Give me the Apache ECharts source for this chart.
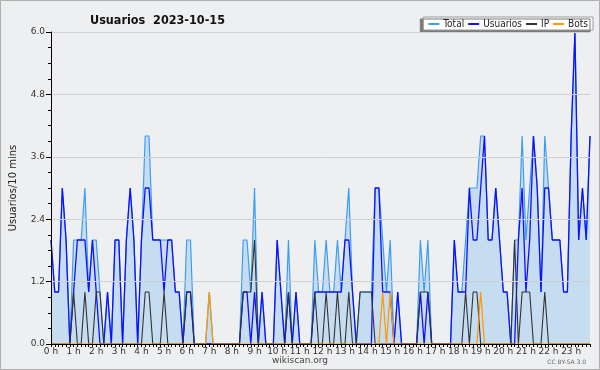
<!DOCTYPE html>
<html><head><meta charset="utf-8">
<script src="https://cdn.jsdelivr.net/npm/echarts@6/dist/echarts.min.js"></script>
<style>html,body{margin:0;padding:0;background:#eeeff1}#c{width:600px;height:370px}</style>
</head><body><div id="c"></div>
<script>
var hourLabels = ["0 h","1 h","2 h","3 h","4 h","5 h","6 h","7 h","8 h","9 h","10 h","11 h","12 h","13 h","14 h","15 h","16 h","17 h","18 h","19 h","20 h","21 h","22 h","23 h"];
var yTicks = [0, 1.2, 2.4, 3.6, 4.8, 6.0];

var total = [
2,1,1,3,2,0,2,2,2,3,1,2,2,1,0,1,0,2,2,0,
2,3,2,0,2,4,4,2,2,2,2,2,2,1,1,0,2,2,0,0,
0,0,1,0,0,0,0,0,0,0,0,2,2,1,3,0,1,0,0,0,
2,1,0,2,0,1,0,0,0,0,2,1,1,2,1,1,2,1,2,3,
1,0,1,1,1,1,3,3,2,1,2,0,1,0,0,0,0,0,2,1,
2,0,0,0,0,0,0,2,1,1,2,3,3,3,4,4,2,2,3,2,
1,1,0,2,2,4,2,3,4,3,1,4,3,2,2,2,1,1,4,6,
2,3,2,4];
var usuarios = [
2,1,1,3,2,0,1,2,2,2,1,2,1,0,0,1,0,2,2,0,
2,3,2,0,2,3,3,2,2,2,1,2,2,1,1,0,1,1,0,0,
0,0,0,0,0,0,0,0,0,0,0,1,1,0,1,0,1,0,0,0,
2,1,0,1,0,1,0,0,0,0,1,1,1,1,1,1,1,1,2,2,
1,0,0,0,0,0,3,3,1,1,1,0,1,0,0,0,0,0,1,0,
1,0,0,0,0,0,0,2,1,1,1,3,2,2,3,4,2,2,3,2,
1,1,0,0,2,3,1,2,4,3,1,3,3,2,2,2,1,1,4,6,
2,3,2,4];
var ip = [
0,0,0,0,0,0,1,0,0,1,0,0,1,1,0,0,0,0,0,0,
0,0,0,0,0,1,1,0,0,0,1,0,0,0,0,0,1,1,0,0,
0,0,0,0,0,0,0,0,0,0,0,1,1,1,2,0,0,0,0,0,
0,0,0,1,0,0,0,0,0,0,1,0,0,1,0,0,1,0,0,1,
0,0,1,1,1,1,0,0,0,0,0,0,0,0,0,0,0,0,1,1,
1,0,0,0,0,0,0,0,0,0,1,0,1,1,0,0,0,0,0,0,
0,0,0,2,0,1,1,1,0,0,0,1,0,0,0,0,0,0,0,0,
0,0,0,0];
var bots = [
0,0,0,0,0,0,0,0,0,0,0,0,0,0,0,0,0,0,0,0,
0,0,0,0,0,0,0,0,0,0,0,0,0,0,0,0,0,0,0,0,
0,0,1,0,0,0,0,0,0,0,0,0,0,0,0,0,0,0,0,0,
0,0,0,0,0,0,0,0,0,0,0,0,0,0,0,0,0,0,0,0,
0,0,0,0,0,0,0,0,1,0,1,0,0,0,0,0,0,0,0,0,
0,0,0,0,0,0,0,0,0,0,0,0,0,0,1,0,0,0,0,0,
0,0,0,0,0,0,0,0,0,0,0,0,0,0,0,0,0,0,0,0,
0,0,0,0];

var categories = [];
for (var h = 0; h < 24; h++) for (var m = 0; m < 60; m += 10) categories.push(h + ':' + (m < 10 ? '0' : '') + m);

var FONT = 'DejaVu Sans';
var CFONT = '"DejaVu Sans Condensed", "DejaVu Sans"';
var chart = echarts.init(document.getElementById('c'), null, {renderer: 'canvas'});
chart.setOption({
  animation: false,
  backgroundColor: '#eeeff1',
  textStyle: {fontFamily: FONT},
  title: {text: 'Usuarios  2023-10-15', left: 85, top: 9,
    textStyle: {fontFamily: CFONT, fontSize: 12.5, fontWeight: 'bold', color: '#111'}},
  legend: {
    right: 7, top: 17, orient: 'horizontal',
    backgroundColor: '#ffffff', borderColor: '#9a9a9a', borderWidth: 1,
    shadowColor: '#7a7a7a', shadowOffsetX: -3, shadowOffsetY: 2, shadowBlur: 0,
    padding: [2, 5, 1, 5], itemGap: 4, itemWidth: 11, itemHeight: 2, icon: 'rect',
    textStyle: {fontFamily: CFONT, fontSize: 10, color: '#222', padding: [0,0,0,-1]},
    data: [
      {name: 'Total', itemStyle: {color: '#3d9df0'}},
      {name: 'Usuarios', itemStyle: {color: '#1010ff'}},
      {name: 'IP', itemStyle: {color: '#333333'}},
      {name: 'Bots', itemStyle: {color: '#ff9900'}}
    ]
  },
  grid: {left: 45, right: 10, top: 32, bottom: 26, containLabel: false},
  xAxis: {
    type: 'category', data: categories, boundaryGap: false, z: 10,
    axisLine: {lineStyle: {color: '#000', width: 1}},
    axisTick: {show: true, interval: 0, length: 3, lineStyle: {color: '#000'}},
    axisLabel: {interval: function (i) { return i % 6 === 0; },
      formatter: function (v, i) { return hourLabels[Math.floor(i / 6)]; },
      fontFamily: FONT, fontSize: 9, color: '#333', margin: 3},
    splitLine: {show: false}
  },
  yAxis: {
    type: 'value', min: yTicks[0], max: yTicks[yTicks.length - 1], interval: 1.2, z: 10,
    name: 'Usuarios/10 mins', nameLocation: 'middle', nameGap: 33, nameRotate: 90,
    nameTextStyle: {fontFamily: FONT, fontSize: 10, color: '#222'},
    axisLine: {show: true, lineStyle: {color: '#000', width: 1}},
    axisTick: {show: true, length: 5, lineStyle: {color: '#000'}},
    minorTick: {show: true, splitNumber: 4, length: 3, lineStyle: {color: '#000'}},
    axisLabel: {formatter: function (v) { return v.toFixed(1); }, fontFamily: FONT, fontSize: 9, color: '#333', margin: 6},
    splitLine: {show: true, lineStyle: {color: '#cfcfcf', width: 1}}
  },
  series: [
    {name: 'Total', type: 'line', data: total, symbol: 'none', lineStyle: {color: '#3d9df0', width: 1.2},
      itemStyle: {color: '#3d9df0'}, areaStyle: {color: '#c6dcf0', opacity: 1}, z: 1},
    {name: 'Usuarios', type: 'line', data: usuarios, symbol: 'none', lineStyle: {color: '#1010ff', width: 1.3},
      itemStyle: {color: '#1010ff'}, z: 2},
    {name: 'IP', type: 'line', data: ip, symbol: 'none', lineStyle: {color: '#333333', width: 1.1},
      itemStyle: {color: '#333333'}, z: 3},
    {name: 'Bots', type: 'line', data: bots, symbol: 'none', lineStyle: {color: '#ff9900', width: 1.2},
      itemStyle: {color: '#ff9900'}, z: 4}
  ],
  graphic: [
    {type: 'text', left: 'center', top: 356, style: {text: 'wikiscan.org', font: '9px "DejaVu Sans"', fill: '#444'}},
    {type: 'text', right: 14, top: 359, style: {text: 'CC BY-SA 3.0', font: '6px "DejaVu Sans"', fill: '#666'}},
    {type: 'rect', shape: {x: 0.5, y: 0.5, width: 599, height: 369}, style: {fill: 'none', stroke: '#b0b0b0', lineWidth: 1}, silent: true, z: 100}
  ]
});
</script></body></html>
